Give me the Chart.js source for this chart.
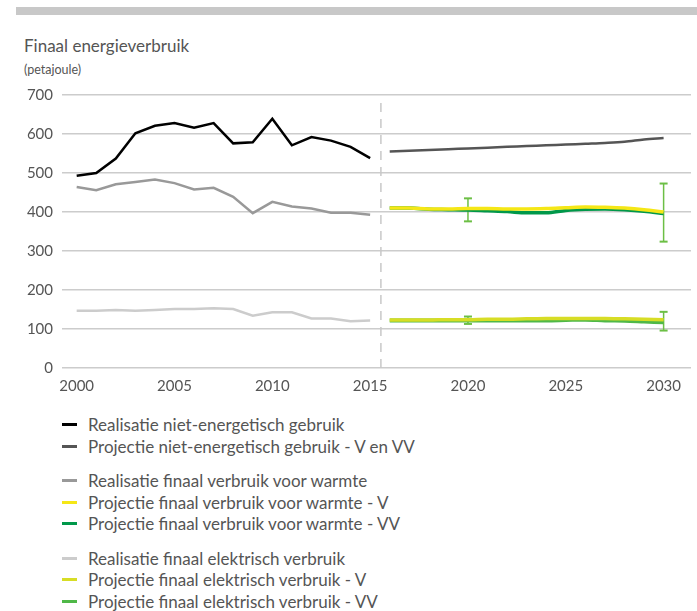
<!DOCTYPE html>
<html>
<head>
<meta charset="utf-8">
<script src="https://cdn.jsdelivr.net/npm/chart.js@4.4.1/dist/chart.umd.min.js"></script>
<style>
  body { margin: 0; background: #fff; font-family: Lato, "Open Sans", sans-serif; color: #555; }
  #page { position: relative; width: 697px; height: 611px; overflow: hidden; }
  #topbar { position: absolute; left: 16px; top: 7px; width: 681px; height: 8px; background: #c8c8c8; }
  #title { position: absolute; left: 24px; top: 35px; font-size: 17px; color: #555; }
  #unit { position: absolute; left: 24px; top: 62px; font-size: 12.5px; color: #555; }
  #wrap { position: absolute; left: 0; top: 0; width: 697px; height: 400px; }
  #legend { position: absolute; left: 62px; top: 414px; font-size: 17px; color: #555; }
  .group { margin-bottom: 13px; }
  .row { height: 21.5px; display: flex; align-items: center; }
  .swatch { width: 15px; height: 3px; margin-right: 11px; }
</style>
</head>
<body>
<div id="page">
  <div id="topbar"></div>
  <div id="title">Finaal energieverbruik</div>
  <div id="unit">(petajoule)</div>
  <div id="wrap"><canvas id="chartCanvas" width="697" height="400"></canvas></div>
  <div id="legend"></div>
</div>
<script>
// realisatie 2000-2015, projectie 2016-2030
const yearsReal = [2000, 2001, 2002, 2003, 2004, 2005, 2006, 2007, 2008, 2009, 2010, 2011, 2012, 2013, 2014, 2015];
const yearsProj = [2016, 2017, 2018, 2019, 2020, 2021, 2022, 2023, 2024, 2025, 2026, 2027, 2028, 2029, 2030];
const xTicks = [2000, 2005, 2010, 2015, 2020, 2025, 2030];

const nietEnergReal = [493, 500, 537, 602, 621, 628, 616, 628, 576, 579, 639, 571, 592, 583, 567, 538];
const nietEnergProj = [555, 557, 559, 561, 563, 565, 567, 569, 571, 573, 575, 577, 580, 586, 590];

const warmteReal = [464, 456, 471, 477, 483, 474, 458, 462, 439, 397, 426, 414, 409, 398, 398, 393];
const warmteV = [410, 410, 408, 408, 409, 409, 408, 408, 409, 411, 413, 412, 410, 406, 400];
const warmteVV = [410, 410, 407, 406, 405, 403, 401, 398, 398, 404, 407, 408, 406, 402, 396];

const elekReal = [147, 147, 149, 147, 149, 151, 151, 153, 151, 134, 143, 143, 127, 127, 120, 122];
const elekV = [123, 123, 123, 124, 124, 125, 125, 126, 127, 127, 127, 127, 126, 125, 124];
const elekVV = [122, 122, 122, 122, 122, 122, 122, 122, 122, 123, 124, 122, 121, 119, 117];

// onzekerheidsbanden
const errYears = [2020, 2030];
const warmteErrHigh = [435, 473];
const warmteErrLow = [376, 324];
const elekErrHigh = [132, 144];
const elekErrLow = [113, 96];

const dividerYear = 2015.55;

function pts(xs, ys) {
  return xs.map((x, i) => ({ x: x, y: ys[i] }));
}

function lineSet(label, xs, ys, color, width, smooth) {
  return {
    label: label,
    data: pts(xs, ys),
    borderColor: color,
    backgroundColor: color,
    borderWidth: width,
    pointRadius: 0,
    tension: smooth ? 0.4 : 0,
    cubicInterpolationMode: smooth ? "monotone" : "default"
  };
}

function errSet(year, lo, hi, color) {
  return {
    label: "err",
    data: [{ x: year, y: lo }, { x: year, y: hi }],
    borderColor: color,
    backgroundColor: color,
    borderWidth: 1.5,
    pointStyle: "line",
    pointRadius: 4,
    pointBorderWidth: 2,
    pointBorderColor: color
  };
}

const datasets = [
  {
    label: "divider",
    data: [{ x: dividerYear, y: 0 }, { x: dividerYear, y: 690 }],
    borderColor: "#c8c8c8",
    borderWidth: 1.5,
    borderDash: [9, 7],
    pointRadius: 0
  },
  lineSet("Realisatie niet-energetisch gebruik", yearsReal, nietEnergReal, "#000000", 2.5, false),
  lineSet("Projectie niet-energetisch gebruik - V en VV", yearsProj, nietEnergProj, "#555555", 2.5, true),
  lineSet("Realisatie finaal verbruik voor warmte", yearsReal, warmteReal, "#999999", 2.5, false),
  lineSet("Projectie finaal verbruik voor warmte - V", yearsProj, warmteV, "#f5e716", 3.5, true),
  lineSet("Projectie finaal verbruik voor warmte - VV", yearsProj, warmteVV, "#00984a", 3.5, true),
  lineSet("Realisatie finaal elektrisch verbruik", yearsReal, elekReal, "#cccccc", 2.5, false),
  lineSet("Projectie finaal elektrisch verbruik - V", yearsProj, elekV, "#d7dd25", 3.5, true),
  lineSet("Projectie finaal elektrisch verbruik - VV", yearsProj, elekVV, "#4fb848", 4, true)
];
errYears.forEach((yr, i) => {
  datasets.push(errSet(yr, warmteErrLow[i], warmteErrHigh[i], "#6cbf45"));
  datasets.push(errSet(yr, elekErrLow[i], elekErrHigh[i], "#6cbf45"));
});

const tickFont = { family: "Lato, 'Open Sans', sans-serif", size: 15 };

new Chart(document.getElementById("chartCanvas").getContext("2d"), {
  type: "line",
  data: { datasets: datasets },
  options: {
    responsive: false,
    animation: false,
    devicePixelRatio: 1,
    layout: { padding: { top: 95, left: 0, right: 0, bottom: 0 } },
    plugins: { legend: { display: false }, tooltip: { enabled: false } },
    scales: {
      x: {
        type: "linear",
        min: 1999.25,
        max: 2031.4,
        grid: { display: false },
        border: { display: false },
        afterBuildTicks: (axis) => { axis.ticks = xTicks.map(v => ({ value: v })); },
        afterFit: (axis) => { axis.height = 32; },
        ticks: {
          autoSkip: false,
          maxRotation: 0,
          padding: 1,
          color: "#555",
          font: tickFont,
          callback: (v) => String(v)
        }
      },
      y: {
        min: 0,
        max: 700,
        afterFit: (axis) => { axis.width = 62; },
        grid: { color: "#cccccc", lineWidth: 1.5, drawTicks: false },
        border: { display: false },
        ticks: { stepSize: 100, padding: 9, color: "#555", font: tickFont }
      }
    }
  }
});

// legenda in groepen
const legendGroups = [
  [["Realisatie niet-energetisch gebruik", "#000000"], ["Projectie niet-energetisch gebruik - V en VV", "#555555"]],
  [["Realisatie finaal verbruik voor warmte", "#999999"], ["Projectie finaal verbruik voor warmte - V", "#f5e716"], ["Projectie finaal verbruik voor warmte - VV", "#00984a"]],
  [["Realisatie finaal elektrisch verbruik", "#cccccc"], ["Projectie finaal elektrisch verbruik - V", "#d7dd25"], ["Projectie finaal elektrisch verbruik - VV", "#4fb848"]]
];
const legend = document.getElementById("legend");
legendGroups.forEach(group => {
  const g = document.createElement("div");
  g.className = "group";
  group.forEach(([text, color]) => {
    const row = document.createElement("div");
    row.className = "row";
    row.innerHTML = '<span class="swatch" style="background:' + color + '"></span><span>' + text + "</span>";
    g.appendChild(row);
  });
  legend.appendChild(g);
});
</script>
</body>
</html>
